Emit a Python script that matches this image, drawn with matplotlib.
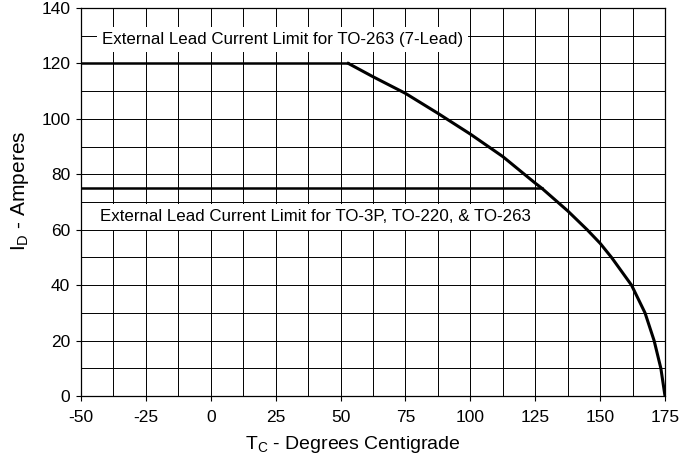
import matplotlib
matplotlib.use("Agg")
import matplotlib.pyplot as plt
import numpy as np

plt.rcParams['font.family'] = ['Liberation Sans', 'DejaVu Sans']
plt.rcParams['mathtext.default'] = 'regular'
plt.rcParams['axes.unicode_minus'] = False

# Data
lead_limit_7 = 120
lead_limit_std = 75
tc_curve = [53, 62.5, 75, 87.5, 100, 112.5, 125, 127.5, 137.5, 145.0, 150, 154.4, 162.1, 167.3, 170.8, 173.4, 175]
id_curve = [120, 115.2, 109.2, 102, 94.5, 86.4, 76.8, 75, 66.8, 60, 55.1, 50, 40, 30, 20, 10, 0]
x_ticks = [-50, -25, 0, 25, 50, 75, 100, 125, 150, 175]
y_ticks = [0, 20, 40, 60, 80, 100, 120, 140]
label_7 = "External Lead Current Limit for TO-263 (7-Lead)"
label_std = "External Lead Current Limit for TO-3P, TO-220, & TO-263"

fig = plt.figure(figsize=(6.82, 4.58), dpi=100)
ax = fig.add_axes([81/682, 62/458, 584/682, 388/458])

ax.set_xlim(-50, 175)
ax.set_ylim(0, 140)
ax.set_xticks(x_ticks)
ax.set_yticks(y_ticks)
ax.set_xticks(np.arange(-50, 175.1, 12.5), minor=True)
ax.set_yticks(np.arange(0, 140.1, 10), minor=True)
ax.tick_params(which='minor', length=0)
ax.tick_params(which='major', direction='out', length=3.8, width=0.8, labelsize=12.5)
ax.tick_params(axis='x', pad=6)
ax.tick_params(axis='y', pad=4)
ax.grid(True, which='both', color='black', linewidth=0.7, zorder=0)
ax.set_axisbelow(True)
for s in ax.spines.values():
    s.set_linewidth(0.9)

# Lead-limit lines and derating curve
ax.plot([x_ticks[0], tc_curve[0]], [lead_limit_7, lead_limit_7], color='black', lw=1.8, zorder=3)
ax.plot([x_ticks[0], tc_curve[id_curve.index(lead_limit_std)]], [lead_limit_std, lead_limit_std],
        color='black', lw=1.8, zorder=3)
ax.plot(tc_curve, id_curve, color='black', lw=2.2, zorder=3, solid_joinstyle='round')

ax.text(-42.0, 128.6, label_7, fontsize=12.2, va='center', ha='left', zorder=4,
        bbox=dict(facecolor='white', edgecolor='none', boxstyle='square,pad=0.3'))
ax.text(-42.7, 64.6, label_std, fontsize=12.2, va='center', ha='left', zorder=4,
        bbox=dict(facecolor='white', edgecolor='none', boxstyle='square,pad=0.3'))

ax.set_xlabel('T$_C$ - Degrees Centigrade', fontsize=14)
ax.set_ylabel('I$_D$ - Amperes', fontsize=15)
ax.xaxis.label.set_va('center')
ax.yaxis.label.set_va('center')
ax.xaxis.set_label_coords(0.466, -0.126)
ax.yaxis.set_label_coords(-0.1045, 0.53)

fig.savefig('out.png', dpi=100)
